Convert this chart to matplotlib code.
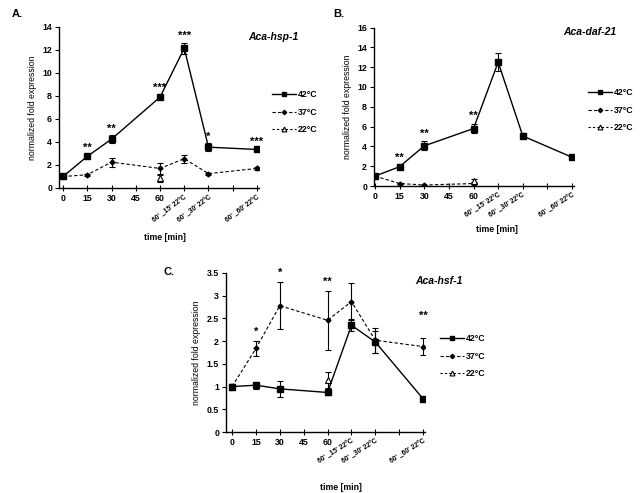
import matplotlib
matplotlib.use("Agg")
import matplotlib.pyplot as plt
from matplotlib.lines import Line2D

plt.rcParams['font.family'] = ['Liberation Sans', 'DejaVu Sans']
plt.rcParams['font.weight'] = 'bold'

# ---------------- data ----------------
time = [0, 15, 30, 60, 75, 90, 120]
time22 = [0, 60]
tick_pos = [0, 15, 30, 45, 60, 75, 90, 105, 120]
tick_labels = ['0', '15', '30', '45', '60', "60' _15' 22°C", "60' _30' 22°C", '', "60' _60' 22°C"]
legend_labels = ['42°C', '37°C', '22°C']

# Panel A: Aca-hsp-1
a42 = [1.0, 2.75, 4.25, 7.9, 12.15, 3.55, 3.35]
a42_err = [0.1, 0.15, 0.35, 0.2, 0.5, 0.35, 0.1]
a37 = [1.0, 1.15, 2.25, 1.7, 2.55, 1.25, 1.7]
a37_err = [0.05, 0.1, 0.4, 0.45, 0.35, 0.08, 0.1]
a22 = [1.0, 0.85]
a22_err = [0.05, 0.3]
a_stars = ['', '**', '**', '***', '***', '*', '***']

# Panel B: Aca-daf-21
b42 = [1.0, 1.95, 4.05, 5.8, 12.5, 5.05, 2.9]
b42_err = [0.1, 0.1, 0.45, 0.5, 0.9, 0.25, 0.1]
b37 = [1.0, 0.25, 0.1, 0.25]
b37_err = [0.05, 0.05, 0.05, 0.05]
time37b = [0, 15, 30, 60]
b22 = [1.0, 0.55]
b22_err = [0.05, 0.15]
b_stars = ['', '**', '**', '**', '', '', '']

# Panel C: Aca-hsf-1
c42 = [1.0, 1.03, 0.95, 0.87, 2.35, 1.98, 0.73]
c42_err = [0.05, 0.08, 0.18, 0.05, 0.13, 0.25, 0.03]
c37 = [1.0, 1.84, 2.78, 2.46, 2.87, 2.02, 1.88]
c37_err = [0.05, 0.17, 0.52, 0.65, 0.4, 0.27, 0.18]
c22 = [1.0, 1.15]
c22_err = [0.05, 0.18]
c_stars = ['', '*', '*', '**', '', '', '**']
c_star_y = [None, 2.1, 3.4, 3.2, None, None, 2.45]

W, H = 640, 493
fig = plt.figure(figsize=(6.4, 4.93), dpi=100)

def px_axes(left, top, right, bottom):
    return fig.add_axes([left / W, 1 - bottom / H, (right - left) / W, (bottom - top) / H])

FS = 6.3
FS_ROT = 4.9

def style_axes(ax, xlim, ylim, yticks, ytl, xlab_px, rot):
    ax.set_xlim(*xlim)
    ax.set_ylim(*ylim)
    for s in ['top', 'right']:
        ax.spines[s].set_visible(False)
    ax.spines['left'].set_linewidth(1.0)
    ax.spines['bottom'].set_linewidth(1.0)
    ax.set_xticks(tick_pos)
    ax.set_xticklabels(tick_labels, fontsize=FS, fontweight='bold')
    for lbl in ax.get_xticklabels()[5:]:
        lbl.set_rotation(rot)
        lbl.set_ha('right')
        lbl.set_rotation_mode('anchor')
        lbl.set_fontsize(FS_ROT)
    ax.set_yticks(yticks)
    ax.set_yticklabels(ytl, fontsize=FS, fontweight='bold')
    ax.tick_params(axis='x', direction='inout', length=4, width=0.8, pad=2)
    ax.tick_params(axis='y', direction='out', length=3, width=0.8, pad=2)
    ax.set_ylabel('normalized fold expression', fontsize=FS, fontweight='normal')
    fig.text(xlab_px[0] / W, 1 - xlab_px[1] / H, 'time [min]', fontsize=FS,
             fontweight='bold', ha='center', va='center')

def plot_series(ax, x, y, e, kind):
    if kind == '42':
        ax.errorbar(x, y, yerr=e, color='black', lw=1.0, ls='-', marker='s', ms=4.5,
                    mfc='black', mec='black', capsize=2, elinewidth=0.8, capthick=0.8, zorder=3)
    elif kind == '37':
        ax.errorbar(x, y, yerr=e, color='black', lw=0.8, ls=(0, (3, 2)), marker='D', ms=2.5,
                    mfc='black', mec='black', capsize=2, elinewidth=0.8, capthick=0.8, zorder=2)
    else:
        ax.errorbar(x, y, yerr=e, color='black', lw=0, ls='none', marker='^', ms=4,
                    mfc='white', mec='black', mew=0.8, capsize=2, elinewidth=0.8, capthick=0.8,
                    ecolor='black', zorder=2)

def add_stars(ax, x, y, e, stars, off, ys=None):
    for i, s in enumerate(stars):
        if s:
            yy = ys[i] if ys is not None and ys[i] is not None else y[i] + e[i] + off
            ax.text(x[i], yy, s, ha='center', va='bottom', fontsize=8, fontweight='bold')

def add_legend(x0, y0):
    handles = [
        Line2D([], [], color='black', lw=1.0, ls='-', marker='s', ms=3.5, mfc='black'),
        Line2D([], [], color='black', lw=0.8, ls=(0, (3, 2)), marker='D', ms=2.2, mfc='black'),
        Line2D([], [], color='black', lw=0.8, ls=(0, (2, 2)), marker='^', ms=3.5, mfc='white', mew=0.8),
    ]
    fig.legend(handles, legend_labels, loc='upper left', bbox_to_anchor=(x0 / W, 1 - y0 / H),
               frameon=False, handlelength=2.7, numpoints=1,
               labelspacing=1.0, handletextpad=0.3, borderpad=0, borderaxespad=0,
               prop={'weight': 'bold', 'size': FS})

# ---- Panel A ----
axA = px_axes(59, 27, 258.6, 188)
style_axes(axA, (-2.5, 121), (0, 14), range(0, 15, 2), [str(v) for v in range(0, 15, 2)], (165, 237), 37)
plot_series(axA, time, a42, a42_err, '42')
plot_series(axA, time, a37, a37_err, '37')
plot_series(axA, time22, a22, a22_err, '22')
add_stars(axA, time, a42, a42_err, a_stars, 0.15)
axA.text(1.2, 0.94, 'Aca-hsp-1', transform=axA.transAxes, ha='right', va='center',
         fontsize=7.5, fontweight='bold', style='italic')
add_legend(272, 90)
fig.text(12 / W, 1 - 14 / H, 'A.', fontsize=8, fontweight='bold', va='center')

# ---- Panel B ----
axB = px_axes(374, 27.5, 573.7, 186)
style_axes(axB, (-0.6, 121), (0, 16), range(0, 17, 2), [str(v) for v in range(0, 17, 2)], (497, 229), 32)
plot_series(axB, time, b42, b42_err, '42')
plot_series(axB, time37b, b37, b37_err, '37')
plot_series(axB, time22, b22, b22_err, '22')
add_stars(axB, time, b42, b42_err, b_stars, 0.3)
axB.text(1.215, 0.97, 'Aca-daf-21', transform=axB.transAxes, ha='right', va='center',
         fontsize=7.5, fontweight='bold', style='italic')
add_legend(588, 88)
fig.text(333 / W, 1 - 14 / H, 'B.', fontsize=8, fontweight='bold', va='center')

# ---- Panel C ----
axC = px_axes(226, 273, 424.7, 432)
cy = [0, 0.5, 1, 1.5, 2, 2.5, 3, 3.5]
style_axes(axC, (-3.8, 121), (0, 3.5), cy, ['0', '0.5', '1', '1.5', '2', '2.5', '3', '3.5'], (341, 487), 32)
plot_series(axC, time, c42, c42_err, '42')
plot_series(axC, time, c37, c37_err, '37')
plot_series(axC, time22, c22, c22_err, '22')
add_stars(axC, time, c37, c37_err, c_stars, 0.03, c_star_y)
axC.text(1.19, 0.95, 'Aca-hsf-1', transform=axC.transAxes, ha='right', va='center',
         fontsize=7.5, fontweight='bold', style='italic')
add_legend(440, 334)
fig.text(163 / W, 1 - 272 / H, 'C.', fontsize=8, fontweight='bold', va='center')

fig.savefig('out.png', dpi=100)
